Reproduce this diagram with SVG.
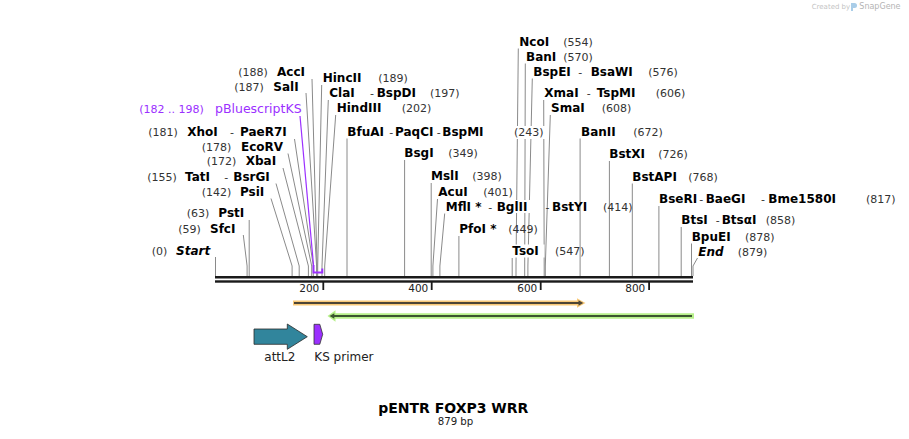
<svg xmlns="http://www.w3.org/2000/svg" width="909" height="439" viewBox="0 0 909 439">
<style>
text{font-family:"DejaVu Sans",Verdana,sans-serif}
.n{font-weight:bold;font-size:12px;fill:#000}
.c{font-size:11px;fill:#333}
.it{font-style:italic}
.pu{fill:#9b30ff}
.ln{stroke:#8a8a8a;stroke-width:1;fill:none}
.bg{fill:#fff}
.tk{font-size:10.5px;fill:#222;text-anchor:end}
.fl{font-size:12px;fill:#222}
</style>
<rect width="909" height="439" fill="#fff"/>
<g id="watermark">
<text x="811.7" y="9.3" style="font-size:7px;fill:#c4c4c4">Created by</text>
<path d="M851,3 h3.5 a2.5,2.5 0 0 1 0,5 h-1.5 v3 h-2 z" fill="#a9cde8"/>
<text x="859.3" y="9.3" style="font-size:8px;fill:#b4b4b4">SnapGene</text>
</g>
<g id="connectors">
<path class="ln" d="M312,79 L317.1,266 V276"/>
<path class="ln" d="M306,93 L316.6,266 V276"/>
<path class="ln" d="M294.5,139 L313.3,266 V276"/>
<path class="ln" d="M288,153.5 L311.7,266 V276"/>
<path class="ln" d="M283,168 L308.4,266 V276"/>
<path class="ln" d="M276,183.5 L299.2,266 V276"/>
<path class="ln" d="M271,198.5 L292.1,266 V276"/>
<path class="ln" d="M249.2,220 V276"/>
<path class="ln" d="M243.3,235 L247.1,266 V276"/>
<path class="ln" d="M215.5,257 V276"/>
<path class="ln" d="M321.7,85 L317.7,266 V276"/>
<path class="ln" d="M328.3,100 L322,266 V276"/>
<path class="ln" d="M335.7,115 L324.7,266 V276"/>
<path class="ln" d="M347,138.5 V276"/>
<path class="ln" d="M404.6,160 V276"/>
<path class="ln" d="M431.2,183 V276"/>
<path class="ln" d="M437.5,199 L432.9,266 V276"/>
<path class="ln" d="M444.7,213.5 L439.9,266 V276"/>
<path class="ln" d="M458.9,236 V276"/>
<path class="ln" d="M512.2,258 V276"/>
<path class="ln" d="M518.3,48.5 L516,266 V276"/>
<path class="ln" d="M525.3,63.5 L524.7,266 V276"/>
<path class="ln" d="M532.3,78.5 L527.9,266 V276"/>
<path class="ln" d="M543.7,100 L544.2,266 V276"/>
<path class="ln" d="M550.3,115 L545.3,266 V276"/>
<path class="ln" d="M580.1,138.5 V276"/>
<path class="ln" d="M609.4,161 V276"/>
<path class="ln" d="M632.3,183.5 V276"/>
<path class="ln" d="M658.9,206 V276"/>
<path class="ln" d="M681.2,227 V276"/>
<path class="ln" d="M691.5,243.5 V276"/>
<path class="ln" d="M697.5,258 L693,266 V276"/>
<path d="M300,116 L313.5,265" stroke="#9b30ff" stroke-width="1.2" fill="none"/>
<path d="M313.5,265 V272.5 H322.3 V268.5" stroke="#9b30ff" stroke-width="2" fill="none"/>
</g>
<g id="ruler">
<rect x="215" y="276" width="478" height="2.5" fill="#1a1a1a"/>
<rect x="215" y="280.3" width="478" height="2.4" fill="#1a1a1a"/>
<rect x="322.4" y="281" width="1.8" height="9" fill="#1a1a1a"/>
<rect x="430.8" y="281" width="1.8" height="9" fill="#1a1a1a"/>
<rect x="539.8" y="281" width="1.8" height="9" fill="#1a1a1a"/>
<rect x="648.2" y="281" width="1.8" height="9" fill="#1a1a1a"/>
<text class="tk" x="319.3" y="292.3">200</text>
<text class="tk" x="428.3" y="292.3">400</text>
<text class="tk" x="537.3" y="292.3">600</text>
<text class="tk" x="645.3" y="292.3">800</text>
</g>
<g id="feature-orange">
<path d="M293,303 H579" stroke="#f9c978" stroke-width="5" fill="none"/>
<polygon points="577,298.3 585.5,303 577,307.7" fill="#f9c978"/>
<path d="M294,303 H580" stroke="#4d4535" stroke-width="2" fill="none"/>
<polygon points="578.5,300.3 583.3,303 578.5,305.7" fill="#4d4535"/>
</g>
<g id="feature-green">
<path d="M334,316 H694" stroke="#b7f08a" stroke-width="5.5" fill="none"/>
<polygon points="335.5,310.3 327.5,316 335.5,321.7" fill="#b7f08a"/>
<path d="M333,316 H692" stroke="#3c5530" stroke-width="2" fill="none"/>
<polygon points="334.3,313.3 329.5,316 334.3,318.7" fill="#3c5530"/>
</g>
<g id="attL2">
<polygon points="254,329 287.3,329 287.3,324 307.3,336.7 287.3,349.3 287.3,344.3 254,344.3" fill="#31859c" stroke="#2a2a2a" stroke-width="0.8"/>
<text class="fl" x="264.3" y="361">attL2</text>
</g>
<g id="KS-primer">
<polygon points="314,324.3 319.8,324.3 322.7,334.3 319.8,344.3 314,344.3" fill="#9b30ff" stroke="#333" stroke-width="0.8"/>
<text class="fl" x="314.3" y="361">KS primer</text>
</g>
<g id="AccI"><text class="c" x="238.3" y="76">(188)</text><text class="n" x="277" y="76">AccI</text></g>
<g id="SalI"><text class="c" x="234.3" y="91">(187)</text><text class="n" x="273.3" y="91">SalI</text></g>
<g id="pBluescriptKS"><text class="c pu" x="139.3" y="113.3">(182 .. 198)</text><text class="pu" x="215" y="113.3" style="font-size:12.5px">pBluescriptKS</text></g>
<g id="XhoI"><text class="c" x="148.3" y="136">(181)</text><text class="n" x="187.3" y="136">XhoI</text><text class="c" x="230" y="136">-</text><text class="n" x="240" y="136">PaeR7I</text></g>
<g id="EcoRV"><text class="c" x="201.7" y="150.7">(178)</text><text class="n" x="241" y="150.7">EcoRV</text></g>
<g id="XbaI"><text class="c" x="206.7" y="165.3">(172)</text><text class="n" x="245.7" y="165.3">XbaI</text></g>
<g id="TatI"><text class="c" x="147.3" y="180.7">(155)</text><text class="n" x="185" y="180.7">TatI</text><text class="c" x="224.3" y="180.7">-</text><text class="n" x="233.3" y="180.7">BsrGI</text></g>
<g id="PsiI"><text class="c" x="201.7" y="195.7">(142)</text><text class="n" x="240" y="195.7">PsiI</text></g>
<g id="PstI"><text class="c" x="186.7" y="217.3">(63)</text><text class="n" x="218.3" y="217.3">PstI</text></g>
<g id="SfcI"><text class="c" x="178.3" y="232.7">(59)</text><text class="n" x="210" y="232.7">SfcI</text></g>
<g id="Start"><text class="c" x="151.7" y="254.7">(0)</text><text class="n it" x="176" y="254.7">Start</text></g>
<g id="HincII"><text class="n" x="322.7" y="82.3">HincII</text><text class="c" x="378.3" y="82.3">(189)</text></g>
<g id="ClaI"><text class="n" x="329.3" y="97.3">ClaI</text><text class="c" x="370" y="97.3">-</text><text class="n" x="376.7" y="97.3">BspDI</text><text class="c" x="430" y="97.3">(197)</text></g>
<g id="HindIII"><text class="n" x="336.7" y="112.3">HindIII</text><text class="c" x="401.7" y="112.3">(202)</text></g>
<g id="BfuAI"><text class="n" x="347.3" y="135.7">BfuAI</text><text class="c" x="389.3" y="135.7">-</text><text class="n" x="395" y="135.7">PaqCI</text><text class="c" x="436.7" y="135.7">-</text><text class="n" x="442.3" y="135.7">BspMI</text><rect class="bg" x="512" y="126" width="35" height="13"/><text class="c" x="514" y="135.7">(243)</text></g>
<g id="BsgI"><text class="n" x="404.3" y="157.3">BsgI</text><text class="c" x="448.3" y="157.3">(349)</text></g>
<g id="MslI"><text class="n" x="431" y="180">MslI</text><text class="c" x="472.3" y="180">(398)</text></g>
<g id="AcuI"><text class="n" x="438.3" y="196">AcuI</text><text class="c" x="483.3" y="196">(401)</text></g>
<g id="MflI"><text class="n" x="445.7" y="210.7">MflI *</text><text class="c" x="488.3" y="210.7">-</text><rect class="bg" x="495" y="200" width="37" height="13"/><text class="n" x="496.7" y="210.7">BglII</text><text class="c" x="545.5" y="210.7">-</text><text class="n" x="552" y="210.7">BstYI</text><text class="c" x="603" y="210.7">(414)</text></g>
<g id="PfoI"><text class="n" x="459.3" y="232.7">PfoI *</text><text class="c" x="508.3" y="232.7">(449)</text></g>
<g id="TsoI"><rect class="bg" x="510.5" y="244.5" width="34" height="13"/><text class="n" x="512.3" y="255">TsoI</text><text class="c" x="555" y="255">(547)</text></g>
<g id="NcoI"><text class="n" x="519.3" y="45.7">NcoI</text><text class="c" x="563.3" y="45.7">(554)</text></g>
<g id="BanI"><text class="n" x="526" y="60.7">BanI</text><text class="c" x="563.3" y="60.7">(570)</text></g>
<g id="BspEI"><text class="n" x="533.3" y="75.7">BspEI</text><text class="c" x="578.3" y="75.7">-</text><text class="n" x="590.7" y="75.7">BsaWI</text><text class="c" x="648.3" y="75.7">(576)</text></g>
<g id="XmaI"><text class="n" x="544.3" y="97.3">XmaI</text><text class="c" x="586.7" y="97.3">-</text><text class="n" x="596.7" y="97.3">TspMI</text><text class="c" x="655.7" y="97.3">(606)</text></g>
<g id="SmaI"><text class="n" x="551" y="112.3">SmaI</text><text class="c" x="601.7" y="112.3">(608)</text></g>
<g id="BanII"><text class="n" x="581" y="135.7">BanII</text><text class="c" x="633.3" y="135.7">(672)</text></g>
<g id="BstXI"><text class="n" x="609.3" y="158.3">BstXI</text><text class="c" x="658.3" y="158.3">(726)</text></g>
<g id="BstAPI"><text class="n" x="632.3" y="180.7">BstAPI</text><text class="c" x="688.3" y="180.7">(768)</text></g>
<g id="BseRI"><text class="n" x="659" y="203.3">BseRI</text><text class="c" x="699.3" y="203.3">-</text><text class="n" x="705.7" y="203.3">BaeGI</text><text class="c" x="761" y="203.3">-</text><text class="n" x="768.3" y="203.3">Bme1580I</text><text class="c" x="866" y="203.3">(817)</text></g>
<g id="BtsI"><text class="n" x="681.3" y="224.3">BtsI</text><text class="c" x="715.7" y="224.3">-</text><text class="n" x="721.7" y="224.3">BtsαI</text><text class="c" x="765.7" y="224.3">(858)</text></g>
<g id="BpuEI"><text class="n" x="691.7" y="240.7">BpuEI</text><text class="c" x="745" y="240.7">(878)</text></g>
<g id="End"><text class="n it" x="698.3" y="255.7">End</text><text class="c" x="737.7" y="255.7">(879)</text></g>
<g id="title">
<text x="453.3" y="413.3" text-anchor="middle" style="font-weight:bold;font-size:14px;fill:#000">pENTR FOXP3 WRR</text>
<text x="455.5" y="425" text-anchor="middle" style="font-size:10.2px;fill:#222">879 bp</text>
</g>
</svg>
